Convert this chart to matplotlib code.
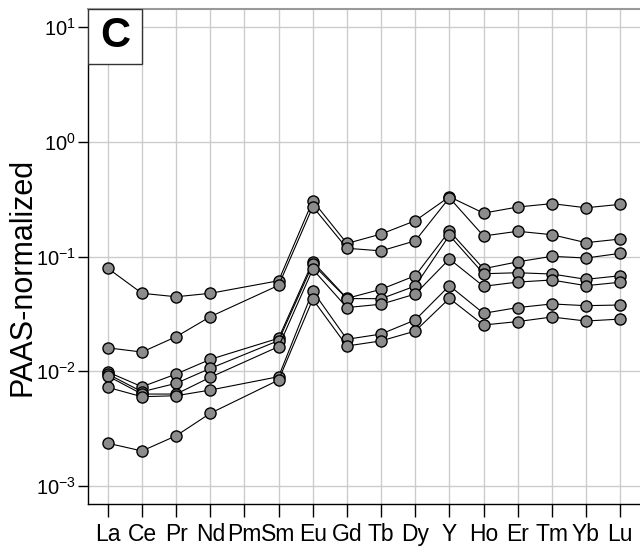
import numpy as np
import matplotlib
matplotlib.use('Agg')
from matplotlib import pyplot as plt
from matplotlib.patches import Rectangle

plt.rcParams['font.family'] = ['Liberation Sans', 'DejaVu Sans']
plt.rcParams['mathtext.fontset'] = 'custom'
plt.rcParams['mathtext.rm'] = 'Liberation Sans'
plt.rcParams['mathtext.default'] = 'regular'

elements = ['La', 'Ce', 'Pr', 'Nd', 'Pm', 'Sm', 'Eu', 'Gd', 'Tb', 'Dy', 'Y', 'Ho', 'Er', 'Tm', 'Yb', 'Lu']

# PAAS-normalized values, Pm not measured (None)
s1 = [0.079, 0.0478, 0.0446, 0.0478, None, 0.0615, 0.306, 0.130, 0.157, 0.205, 0.332, 0.239, 0.270, 0.289, 0.266, 0.285]
s2 = [0.0160, 0.0147, 0.0200, 0.0299, None, 0.0561, 0.272, 0.118, 0.112, 0.137, 0.325, 0.151, 0.166, 0.155, 0.132, 0.142]
s3 = [0.00985, 0.00733, 0.00946, 0.0127, None, 0.0194, 0.0901, 0.0432, 0.0518, 0.0680, 0.167, 0.0783, 0.0899, 0.1004, 0.0970, 0.1066]
s4 = [0.00946, 0.00663, 0.00785, 0.0106, None, 0.0185, 0.0855, 0.0430, 0.0429, 0.0553, 0.153, 0.0708, 0.0722, 0.0704, 0.0633, 0.0680]
s5 = [0.00909, 0.00633, 0.00633, 0.00886, None, 0.0164, 0.0774, 0.0359, 0.0384, 0.0471, 0.0951, 0.0550, 0.0599, 0.0624, 0.0557, 0.0597]
s6 = [0.00724, 0.00600, 0.00612, 0.00686, None, 0.00897, 0.0500, 0.0190, 0.0211, 0.0280, 0.0557, 0.0320, 0.0359, 0.0386, 0.0373, 0.0378]
s7 = [0.00236, 0.00202, 0.00274, 0.00430, None, 0.00839, 0.0424, 0.0166, 0.0184, 0.0224, 0.0432, 0.0253, 0.0271, 0.0297, 0.0274, 0.0285]
samples = [s1, s2, s3, s4, s5, s6, s7]

fig = plt.figure(figsize=[6.4, 5.5], dpi=100)
ax = fig.add_axes([0.1375, 0.0836, 0.8625, 0.9])

for s in samples:
    xs = [i for i, v in enumerate(s) if v is not None]
    ys = [v for v in s if v is not None]
    ax.plot(xs, ys, color='black', lw=0.8, marker='o', ms=8,
            markerfacecolor='#8c8c8c', markeredgecolor='black', markeredgewidth=1.0, zorder=3)

ax.set_yscale('log')
ax.set_ylim(10**-3.157, 10**1.157)
ax.set_xlim(-0.58, 15.58)
ax.set_xticks(range(len(elements)))
ax.set_xticklabels(elements, fontsize=16.5)
ax.set_yticks([1e-3, 1e-2, 1e-1, 1e0, 1e1])
ax.set_yticklabels(['$10^{-3}$', '$10^{-2}$', '$10^{-1}$', '$10^{0}$', '$10^{1}$'], fontsize=14.5)
ax.minorticks_off()
ax.tick_params(axis='x', direction='out', length=9, width=1, pad=5)
ax.tick_params(axis='y', direction='out', length=7, width=1, pad=1.5)
ax.grid(True, color='#cccccc', lw=1, zorder=0)
ax.set_axisbelow(True)
ax.set_ylabel('PAAS-normalized', fontsize=22)
ax.yaxis.set_label_coords(-0.092, 0.458)

ax.spines['right'].set_visible(False)
ax.spines['top'].set_color('#999999')
ax.spines['top'].set_linewidth(1.5)
ax.spines['left'].set_linewidth(1)
ax.spines['bottom'].set_linewidth(1)

ax.add_patch(Rectangle((0, 0.889), 0.098, 0.111, transform=ax.transAxes,
                       facecolor='white', edgecolor='#333333', lw=1, zorder=5))
ax.text(0.049, 0.9445, 'C', transform=ax.transAxes, fontsize=30, fontweight='bold',
        ha='center', va='center', zorder=6)

plt.savefig('out.png', dpi=100)
